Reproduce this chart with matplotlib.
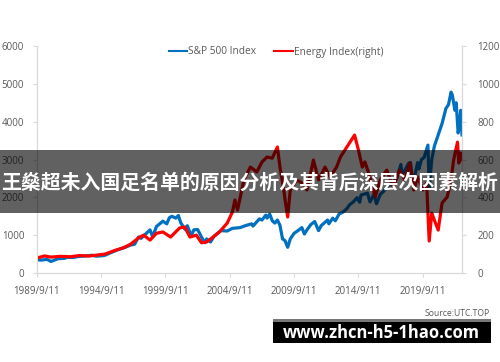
import matplotlib
matplotlib.use("Agg")
import matplotlib.pyplot as plt
from matplotlib.patches import Rectangle
from matplotlib.lines import Line2D

# ---------------- data ----------------
sp_years = [1989.69, 1990.0, 1990.5, 1990.8, 1991.0, 1991.3, 1991.9, 1992.0, 1992.5, 1993.0,
            1993.5, 1994.0, 1994.3, 1994.9, 1995.0, 1995.5, 1996.0, 1996.5, 1997.0, 1997.3,
            1997.6, 1997.8, 1998.0, 1998.5, 1998.7, 1999.0, 1999.5, 1999.8, 2000.0, 2000.2,
            2000.5, 2000.7, 2000.9, 2001.2, 2001.4, 2001.7, 2001.9, 2002.2, 2002.5, 2002.75,
            2002.9, 2003.2, 2003.5, 2004.0, 2004.5, 2004.9, 2005.5, 2005.9, 2006.4, 2006.5,
            2007.0, 2007.2, 2007.5, 2007.6, 2007.8, 2008.0, 2008.2, 2008.4, 2008.6, 2008.8,
            2008.9, 2009.0, 2009.2, 2009.4, 2009.7, 2010.0, 2010.3, 2010.5, 2010.7, 2011.0,
            2011.3, 2011.6, 2011.8, 2012.0, 2012.3, 2012.4, 2012.7, 2012.9, 2013.2, 2013.5,
            2013.8, 2014.0, 2014.3, 2014.6, 2014.8, 2014.9, 2015.4, 2015.6, 2015.9, 2016.1,
            2016.4, 2016.7, 2016.9, 2017.3, 2017.7, 2018.0, 2018.1, 2018.6, 2018.75, 2018.95,
            2019.3, 2019.4, 2019.6, 2019.8, 2020.1, 2020.2, 2020.4, 2020.6, 2020.9, 2021.2,
            2021.5, 2021.7, 2021.9, 2022.0, 2022.2, 2022.3, 2022.45, 2022.55, 2022.65, 2022.75]
sp_values = [350, 340, 360, 305, 330, 375, 390, 415, 410, 440,
             450, 470, 445, 460, 470, 545, 615, 670, 740, 760,
             950, 915, 980, 1140, 960, 1230, 1370, 1300, 1460, 1500,
             1450, 1520, 1320, 1160, 1250, 980, 1140, 1150, 950, 800,
             900, 820, 980, 1120, 1110, 1180, 1200, 1250, 1300, 1240,
             1430, 1400, 1530, 1450, 1560, 1380, 1320, 1400, 1260, 900,
             880, 850, 680, 900, 1050, 1120, 1200, 1030, 1140, 1280,
             1360, 1120, 1250, 1310, 1400, 1300, 1450, 1380, 1560, 1610,
             1700, 1800, 1880, 1990, 1870, 2060, 2110, 1880, 2080, 1830,
             2080, 2170, 2270, 2380, 2520, 2870, 2580, 2900, 2920, 2350,
             2920, 2750, 3000, 3050, 3380, 2240, 3000, 3350, 3650, 3950,
             4350, 4450, 4780, 4700, 4300, 4500, 3700, 3900, 4300, 3650]

en_years = [1989.69, 1990.3, 1990.8, 1991.5, 1992.3, 1993.0, 1993.8, 1994.4, 1995.0, 1995.8,
            1996.5, 1997.0, 1997.7, 1998.0, 1998.5, 1999.0, 1999.5, 2000.1, 2000.8, 2001.2,
            2001.6, 2002.1, 2002.5, 2002.9, 2003.4, 2003.9, 2004.5, 2004.9, 2005.1, 2005.3,
            2005.8, 2006.3, 2006.8, 2007.2, 2007.6, 2008.0, 2008.4, 2008.6, 2008.9, 2009.0,
            2009.2, 2009.4, 2009.9, 2010.3, 2010.7, 2011.2, 2011.6, 2012.1, 2012.5, 2013.0,
            2013.3, 2013.8, 2014.4, 2014.7, 2015.0, 2015.2, 2015.5, 2015.8, 2016.0, 2016.4,
            2016.9, 2017.4, 2017.9, 2018.3, 2018.7, 2019.0, 2019.3, 2019.7, 2020.0, 2020.2,
            2020.4, 2020.6, 2020.9, 2021.2, 2021.6, 2021.9, 2022.1, 2022.4, 2022.5, 2022.65,
            2022.75]
en_values = [79, 90, 84, 88, 86, 92, 90, 95, 100, 120,
             135, 153, 190, 200, 174, 210, 217, 190, 238, 243,
             190, 200, 160, 164, 190, 217, 264, 322, 386, 333,
             492, 560, 534, 587, 613, 607, 666, 560, 439, 386,
             296, 439, 492, 476, 439, 597, 492, 560, 508, 560,
             613, 666, 729, 650, 560, 587, 528, 455, 402, 492,
             544, 455, 544, 492, 581, 439, 508, 439, 476, 169,
             317, 280, 227, 370, 402, 492, 597, 692, 581, 634,
             600]

x_tick_pos = [1989.69, 1994.69, 1999.69, 2004.69, 2009.69, 2014.69, 2019.69]
x_tick_labels = ["1989/9/11", "1994/9/11", "1999/9/11", "2004/9/11",
                 "2009/9/11", "2014/9/11", "2019/9/11"]
left_ticks = [0, 1000, 2000, 3000, 4000, 5000, 6000]
right_ticks = [0, 200, 400, 600, 800, 1000, 1200]

title_text = "王燊超未入国足名单的原因分析及其背后深层次因素解析"
site_text = "www.zhcn-h5-1hao.com"
source_text = "Source:UTC.TOP"

# ---------------- style ----------------
W, H = 500, 362
fig = plt.figure(figsize=(W / 100, H / 100), dpi=100)
fig.patch.set_facecolor("white")
plt.rcParams['font.family'] = ['Open Sans', 'DejaVu Sans']

gray_txt = "#595959"
spine_col = "#d9d9d9"
blue = "#0070C0"
red = "#FF0000"

ax = fig.add_axes([36.7 / W, 1 - 273 / H, (462 - 36.7) / W, (273 - 46) / H])
ax2 = ax.twinx()

ax.plot(sp_years, sp_values, color=blue, lw=2.3, solid_joinstyle="round")
ax2.plot(en_years, en_values, color=red, lw=2.3, solid_joinstyle="round")

ax.set_xlim(1989.69, 2022.75)
ax.set_ylim(0, 6000)
ax2.set_ylim(0, 1200)
ax.set_xticks(x_tick_pos)
ax.set_xticklabels(x_tick_labels)
ax.set_yticks(left_ticks)
ax2.set_yticks(right_ticks)

for a in (ax, ax2):
    for s in a.spines.values():
        s.set_color(spine_col)
        s.set_linewidth(0.8)
    a.spines['top'].set_visible(False)
    a.tick_params(colors=spine_col, labelcolor=gray_txt, labelsize=7, length=3, width=0.8)
ax.tick_params(axis='x', pad=6)
ax.tick_params(axis='y', pad=6)
ax2.tick_params(axis='y', pad=8)

handles = [Line2D([], [], color=blue, lw=1.5), Line2D([], [], color=red, lw=1.5)]
fig.legend(handles, ["S&P 500 Index", "Energy Index(right)"], loc="center",
           bbox_to_anchor=(276 / W, 1 - 52 / H), ncol=2, frameon=False,
           fontsize=7.3, labelcolor=gray_txt, handlelength=1.8, handletextpad=0.1,
           columnspacing=1.8)

# overlay banner
fig.add_artist(Rectangle((0, 1 - 213 / H), 1, 63 / H, transform=fig.transFigure,
                         facecolor="black", alpha=0.62, edgecolor="none", zorder=10))
fig.text(0.5, 1 - 182 / H, title_text, color="white", fontsize=14.3, fontweight="bold",
         ha="center", va="center", family=['Noto Sans CJK SC', 'DejaVu Sans'], zorder=11)

fig.text(490 / W, 1 - 313 / H, source_text, color=gray_txt, fontsize=6.2,
         ha="right", va="center", zorder=11)

fig.add_artist(Rectangle((273 / W, 1 - 322 / H), 218 / W, 3 / H, transform=fig.transFigure,
                         facecolor="#777777", edgecolor="none", zorder=10))
fig.add_artist(Rectangle((273 / W, 1 - 343 / H), 218 / W, 21 / H, transform=fig.transFigure,
                         facecolor="black", edgecolor="none", zorder=10))
fig.text(381 / W, 1 - 333 / H, site_text, color="white", fontsize=12, fontweight="bold",
         ha="center", va="center", zorder=11)

fig.savefig("out.png", dpi=100)
